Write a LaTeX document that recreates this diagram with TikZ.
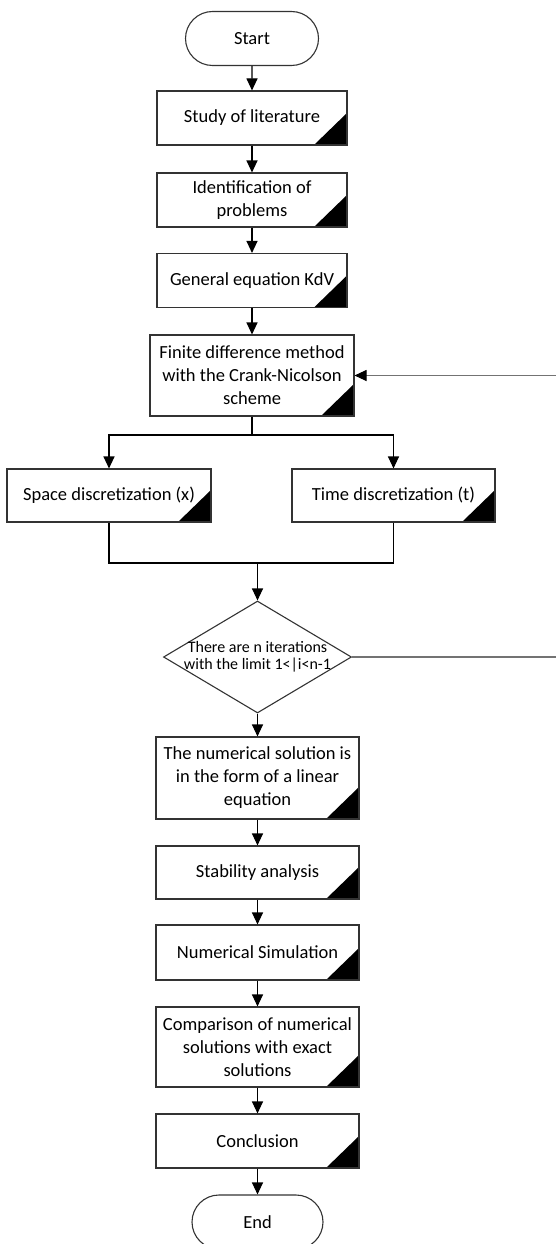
\documentclass[tikz,border=0pt]{standalone}
\usepackage{fontspec}
\setmainfont{Carlito}
\usetikzlibrary{arrows.meta,shapes.geometric,shapes.misc}

\tikzset{
	base/.style={draw=black!80,line width=1.1pt,align=center,inner sep=2pt,
		font=\fontsize{18.5}{23}\selectfont},
	proc/.style={base,minimum width=190pt,minimum height=54pt,
		path picture={\fill[black] (path picture bounding box.south east)
			-- ++(-33pt,0pt) -- ++(33pt,32pt) -- cycle;}},
	term/.style={base,rounded rectangle,minimum width=137pt,minimum height=54pt},
	decision/.style={base,diamond,minimum width=188pt,minimum height=112pt,
		inner xsep=-35pt,inner ysep=-4pt,font=\fontsize{16}{17}\selectfont},
	arr/.style={-{Triangle[width=11pt,length=12pt,black]},line width=1.1pt}
}

\begin{document}
\begin{tikzpicture}[x=1pt,y=-1pt]
	\useasboundingbox (0,0) rectangle (556,1244);
	% upper part
	\node[term] (start) at (252,38.5) {Start};
	\node[proc] (study) at (252,118) {Study of literature};
	\node[proc] (ident) at (252,200) {Identification of\\problems};
	\node[proc] (general) at (252,280.5) {General equation KdV};
	\node[proc,minimum width=204pt,minimum height=81pt] (finite) at (252,375.5) {Finite difference method\\with the Crank-Nicolson\\scheme};
	\node[proc,minimum width=204pt,minimum height=53pt] (space) at (109,495.5) {Space discretization (x)};
	\node[proc,minimum width=203pt,minimum height=53pt] (time) at (393.5,495.5) {Time discretization (t)};
	\node[decision] (dec) at (257.5,657) {There are n iterations\\with the limit 1<|i<n-1};
	% lower part
	\node[proc,minimum width=203pt,minimum height=82pt] (numsol) at (257.5,778) {The numerical solution is\\in the form of a linear\\equation};
	\node[proc,minimum width=203pt,minimum height=53pt] (stab) at (257.5,872.5) {Stability analysis};
	\node[proc,minimum width=203pt,minimum height=55pt] (numsim) at (257.5,952.5) {Numerical Simulation};
	\node[proc,minimum width=203pt,minimum height=80pt] (comp) at (257.5,1047) {Comparison of numerical\\solutions with exact\\solutions};
	\node[proc,minimum width=203pt,minimum height=54pt] (concl) at (257.5,1141) {Conclusion};
	\node[term,minimum width=135pt] (end) at (257.5,1222) {End};

	\coordinate (split) at (252,435);
	\coordinate (merge) at (257.5,563);
	\coordinate (loop) at (562,657);

	\draw[arr] (start) -- (study);
	\draw[arr] (study) -- (ident);
	\draw[arr] (ident) -- (general);
	\draw[arr] (general) -- (finite);
	\draw[line width=1.1pt] (finite.south) -- (split);
	\draw[arr] (split) -| (space.north);
	\draw[arr] (split) -| (time.north);
	\draw[line width=1.1pt] (space.south) |- (merge);
	\draw[line width=1.1pt] (time.south) |- (merge);
	\draw[arr] (merge) -- (dec.north);
	\draw[arr,black!55] (dec.east) -- (loop) |- (finite.east);
	\draw[arr] (dec.south) -- (numsol.north);
	\draw[arr] (numsol) -- (stab);
	\draw[arr] (stab) -- (numsim);
	\draw[arr] (numsim) -- (comp);
	\draw[arr] (comp) -- (concl);
	\draw[arr] (concl) -- (end);
\end{tikzpicture}
\end{document}
